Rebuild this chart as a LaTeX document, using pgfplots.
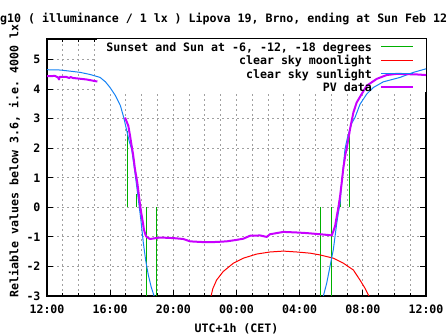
\documentclass[border=0pt]{standalone}
\usepackage{fontspec}
\setmonofont{DejaVu Sans Mono}
\usepackage{pgfplots}
\pgfplotsset{compat=1.18}
\pgfdeclarelayer{keybox}
\pgfplotsset{layers/keylayers/.define layer set={axis background,axis grid,keybox,axis ticks,axis lines,axis tick labels,pre main,main,axis descriptions,axis foreground}{}}
\newcommand\gpfont{\fontsize{11.6bp}{13bp}\ttfamily\bfseries\selectfont}
\definecolor{gpgreen}{RGB}{0,176,0}
\definecolor{gpred}{RGB}{255,0,0}
\definecolor{gpblue}{RGB}{20,130,245}
\definecolor{gppurple}{RGB}{200,0,255}
\definecolor{gpgrid}{RGB}{160,160,160}
\begin{document}
\begin{tikzpicture}
\begin{axis}[set layers=keylayers,
  at={(47bp,39bp)}, anchor=south west, scale only axis,
  width=379bp, height=257bp,
  xmin=0, xmax=24, ymin=-3, ymax=5.7,
  xtick={0,4,...,24},
  minor xtick={1,2,3,5,6,7,9,10,11,13,14,15,17,18,19,21,22,23},
  xticklabels={12:00,16:00,20:00,00:00,04:00,08:00,12:00},
  ytick={-3,-2,-1,0,1,2,3,4,5},
  yticklabels={-3,-2,-1,0,1,2,3,4,5},
  tick align=inside, major tick length=6bp, minor tick length=3bp,
  grid=both,
  major grid style={draw=gpgrid, line width=1bp, dash pattern=on 2bp off 3bp},
  minor grid style={draw=gpgrid, line width=1bp, dash pattern=on 2bp off 3bp},
  axis line style={line width=1.2bp},
  tick style={black, line width=1bp},
  xticklabel style={font=\gpfont, yshift=-5bp},
  yticklabel style={font=\gpfont, xshift=-3bp},
  every axis plot/.append style={line join=round},
]
\fill[white, on layer=keybox] (3.17,3.9) rectangle (24,5.7);
% Sunset and Sun at -6, -12, -18 degrees
\addplot[gpgreen, line width=1bp] coordinates {(5.09,0) (5.09,2.6)};
\addplot[gpgreen, line width=1bp] coordinates {(5.64,0) (5.64,0.45)};
\addplot[gpgreen, line width=1bp] coordinates {(6.31,0) (6.31,-3.3)};
\addplot[gpgreen, line width=1bp] coordinates {(6.95,0) (6.95,-3.3)};
\addplot[gpgreen, line width=1bp] coordinates {(17.35,0) (17.35,-3.3)};
\addplot[gpgreen, line width=1bp] coordinates {(18.03,0) (18.03,-3.3)};
\addplot[gpgreen, line width=1bp] coordinates {(18.56,0) (18.56,0.5)};
\addplot[gpgreen, line width=1bp] coordinates {(19.15,0) (19.15,2.6)};
% clear sky moonlight
\addplot[gpred, line width=1bp] coordinates {
(10.3,-3.3) (10.39,-3.0) (10.5,-2.75) (10.74,-2.46) (11.16,-2.17) (11.8,-1.89)
(12.43,-1.72) (13.28,-1.58) (14.12,-1.51) (14.97,-1.48) (15.81,-1.51)
(16.66,-1.55) (17.29,-1.61) (18.13,-1.72) (18.77,-1.89) (19.4,-2.12)
(19.82,-2.46) (20.14,-2.74) (20.38,-3.0) (20.45,-3.2)};
% clear sky sunlight
\addplot[gpblue, line width=1bp] coordinates {
(0,4.66) (0.82,4.65) (1.65,4.60) (2.1,4.57) (2.72,4.50) (3.36,4.40) (3.7,4.25)
(3.99,4.06) (4.34,3.78) (4.65,3.44) (4.86,3.04) (5.05,2.6) (5.2,2.25)
(5.36,1.97) (5.5,1.45) (5.65,0.85) (5.8,0.2) (5.95,-0.45) (6.1,-1.2)
(6.25,-1.8) (6.42,-2.3) (6.6,-2.7) (6.78,-3.0) (6.9,-3.2)};
\addplot[gpblue, line width=1bp] coordinates {
(17.42,-3.2) (17.5,-3.0) (17.71,-2.57) (17.92,-2.0) (18.13,-1.44) (18.24,-0.98)
(18.35,-0.53) (18.45,-0.19) (18.56,0.14) (18.66,0.83) (18.77,1.40) (18.87,1.97)
(19.0,2.3) (19.15,2.6) (19.3,2.85) (19.5,3.04) (19.82,3.49) (20.25,3.84)
(20.67,4.06) (21.3,4.25) (22.36,4.40) (23.2,4.57) (24,4.69)};
% PV data
\addplot[gppurple, line width=2bp] coordinates {
(0,4.44) (0.5,4.45) (0.7,4.40) (0.76,4.33) (0.8,4.42) (1.2,4.42) (1.4,4.38)
(1.5,4.41) (1.65,4.38) (2.0,4.36) (2.5,4.33) (2.8,4.30) (3.19,4.26)};
\addplot[gppurple, line width=2bp] coordinates {
(4.94,3.04) (5.15,2.76) (5.26,2.42) (5.36,2.08) (5.45,1.8) (5.57,1.3)
(5.72,0.83) (5.85,0.27) (5.93,-0.07) (6.06,-0.47) (6.14,-0.76) (6.25,-0.95)
(6.31,-1.0) (6.52,-1.07) (7.16,-1.02) (8.0,-1.04) (8.63,-1.07) (9.06,-1.15)
(9.69,-1.17) (10.2,-1.18) (10.75,-1.17) (11.38,-1.15) (12.01,-1.10)
(12.43,-1.06) (12.86,-0.96) (13.49,-0.95) (13.91,-1.0) (14.12,-0.91)
(14.55,-0.87) (14.97,-0.83) (15.81,-0.85) (16.45,-0.87) (17.08,-0.90)
(17.92,-0.94) (18.03,-0.95) (18.13,-0.81) (18.24,-0.64) (18.35,-0.30)
(18.45,-0.01) (18.56,0.38) (18.66,0.83) (18.77,1.35) (18.9,1.8) (18.98,2.0)
(19.19,2.65) (19.4,3.21) (19.61,3.55) (19.93,3.84) (20.25,4.12) (20.88,4.35)
(21.51,4.48) (22.15,4.52) (23.41,4.50) (24,4.48)};
\end{axis}
% title and axis labels
\node[anchor=base west, inner sep=0pt, font=\gpfont] at (-14bp,312.3bp)
  {log10 ( illuminance / 1 lx ) Lipova 19, Brno, ending at Sun Feb 12 12:00:00 2023};
\node[anchor=base, inner sep=0pt, font=\gpfont] at (236.5bp,3bp) {UTC+1h (CET)};
\node[anchor=base west, rotate=90, inner sep=0pt, font=\gpfont] at (18.3bp,37.5bp)
  {Reliable values below 3.6, i.e. 4000 lx};
% key
\node[anchor=base east, inner sep=0pt, font=\gpfont] at (372bp,283.4bp) {Sunset and Sun at -6, -12, -18 degrees};
\node[anchor=base east, inner sep=0pt, font=\gpfont] at (372bp,270.1bp) {clear sky moonlight};
\node[anchor=base east, inner sep=0pt, font=\gpfont] at (372bp,256.8bp) {clear sky sunlight};
\node[anchor=base east, inner sep=0pt, font=\gpfont] at (372bp,243.5bp) {PV data};
\draw[gpgreen, line width=1bp] (381bp,288bp) -- (413bp,288bp);
\draw[gpred, line width=1bp] (381bp,274.7bp) -- (413bp,274.7bp);
\draw[gpblue, line width=1bp] (381bp,261.4bp) -- (413bp,261.4bp);
\draw[gppurple, line width=2bp] (381bp,248.1bp) -- (413bp,248.1bp);
\pgfresetboundingbox
\path[use as bounding box] (0bp,0bp) rectangle (447bp,335bp);
\end{tikzpicture}
\end{document}
